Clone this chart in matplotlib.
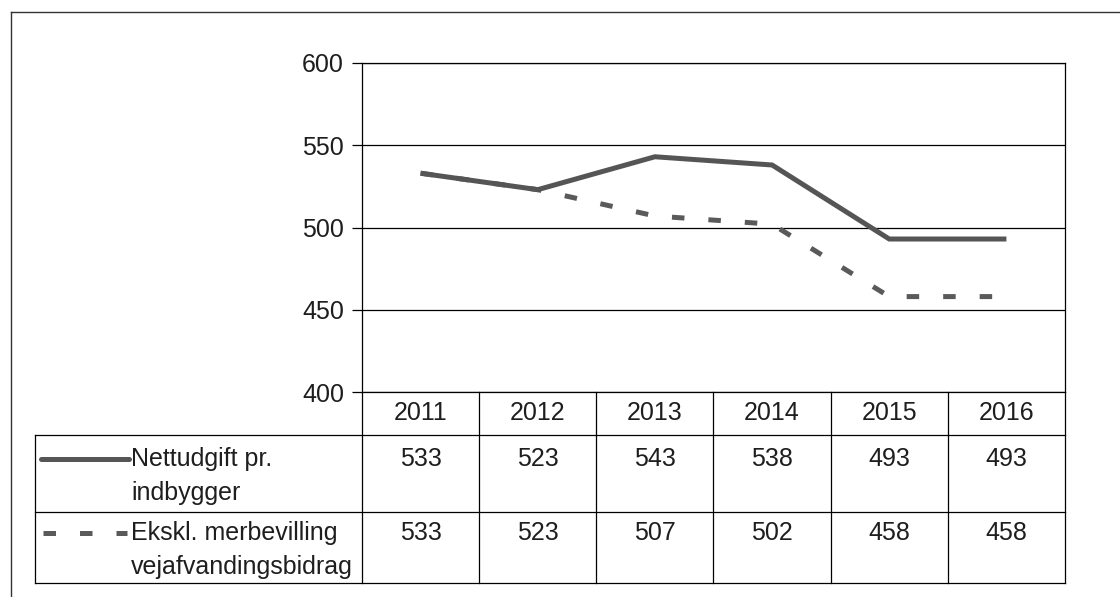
import matplotlib.pyplot as plt
from matplotlib.lines import Line2D

# data
years = ['2011', '2012', '2013', '2014', '2015', '2016']
nettudgift = [533, 523, 543, 538, 493, 493]
ekskl = [533, 523, 507, 502, 458, 458]
series_labels = [['Nettudgift pr.', 'indbygger'],
                 ['Ekskl. merbevilling', 'vejafvandingsbidrag']]
yticks = [400, 450, 500, 550, 600]

plt.rcParams['font.family'] = ['Liberation Sans', 'DejaVu Sans']

W, H = 1120, 597
fig = plt.figure(figsize=(W / 100, H / 100), dpi=100)


def fx(px):
    return px / W


def fy(py):
    return 1 - py / H


solid_col = '#555555'
dash_col = '#5a5a5a'
txt_col = '#1e1e1e'
fs = 18
lw = 3.6
dash_pat = (2.5, 4.8)

# plot area
top, bot = 63, 392
ax = fig.add_axes([fx(362), fy(bot), fx(1065) - fx(362), fy(top) - fy(bot)])
x = list(range(len(years)))
ax.plot(x, ekskl, color=dash_col, lw=lw, dashes=dash_pat, dash_capstyle='butt')
ax.plot(x, nettudgift, color=solid_col, lw=lw, solid_joinstyle='miter', solid_capstyle='butt')
ax.set_xlim(-0.5, len(years) - 0.5)
ax.set_ylim(400, 600)
ax.set_yticks(yticks)
ax.set_xticks([])
ax.yaxis.grid(True, color='black', lw=0.9)
ax.tick_params(axis='y', length=7, width=0.9, pad=6, labelsize=fs, labelcolor=txt_col)
for s in ax.spines.values():
    s.set_linewidth(0.9)


# data table under the plot (y in axes fraction, x in data units)
def ay(py):
    return (bot - py) / (bot - top)


tr = ax.get_xaxis_transform()
row_lines = [435, 512, 583]
left_px = 35
left_data = -0.5 - (362 - left_px) / ((1065 - 362) / len(years))

for i in range(len(years) + 1):
    ax.add_line(Line2D([i - 0.5, i - 0.5], [ay(bot), ay(583)], transform=tr,
                       color='black', lw=0.9, clip_on=False))
for r in row_lines:
    ax.add_line(Line2D([left_data, len(years) - 0.5], [ay(r), ay(r)], transform=tr,
                       color='black', lw=0.9, clip_on=False))
ax.add_line(Line2D([left_data, left_data], [ay(435), ay(583)], transform=tr,
                   color='black', lw=0.9, clip_on=False))

for i, yr in enumerate(years):
    ax.text(i, ay(413), yr, transform=tr, ha='center', va='center',
            fontsize=fs, color=txt_col, clip_on=False)
    ax.text(i, ay(459), str(nettudgift[i]), transform=tr, ha='center', va='center',
            fontsize=fs, color=txt_col, clip_on=False)
    ax.text(i, ay(533), str(ekskl[i]), transform=tr, ha='center', va='center',
            fontsize=fs, color=txt_col, clip_on=False)

# legend keys inside the table
fig.add_artist(Line2D([fx(41), fx(129)], [fy(459), fy(459)], color=solid_col, lw=lw,
                      solid_capstyle='round'))
fig.add_artist(Line2D([fx(43), fx(127)], [fy(533), fy(533)], color=dash_col, lw=lw,
                      dashes=dash_pat, dash_capstyle='butt'))
for (l1, l2), yc in zip(series_labels, [459, 533]):
    fig.text(fx(131), fy(yc), l1, ha='left', va='center', fontsize=fs, color=txt_col)
    fig.text(fx(131), fy(yc + 34), l2, ha='left', va='center', fontsize=fs, color=txt_col)

# outer frame (only top and left visible in the scan)
fig.add_artist(Line2D([fx(11), 1], [fy(12), fy(12)], color='#333333', lw=1.0))
fig.add_artist(Line2D([fx(11), fx(11)], [fy(12), 0], color='#333333', lw=1.0))

fig.savefig('out.png', dpi=100)
